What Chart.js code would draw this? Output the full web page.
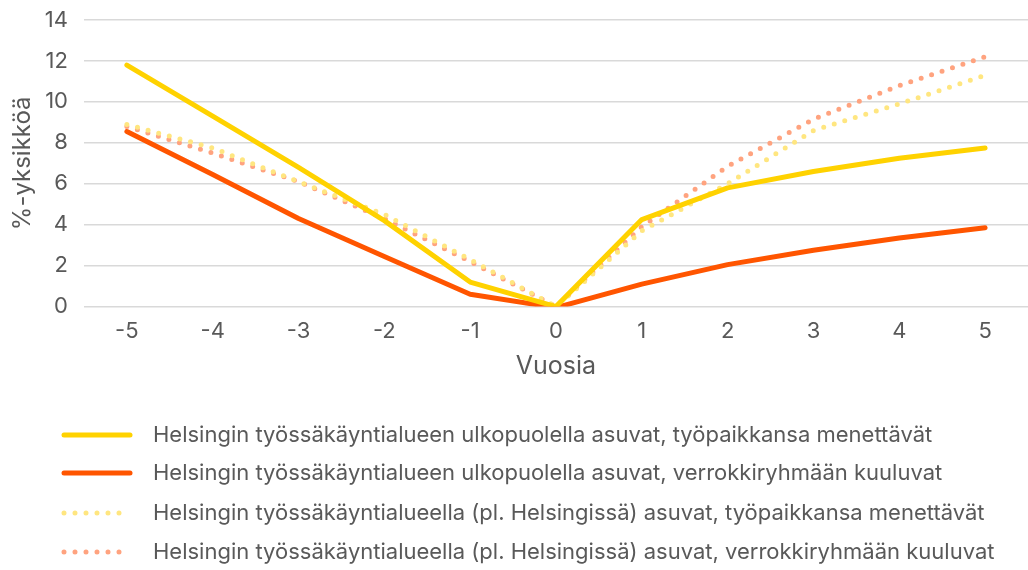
<!DOCTYPE html>
<html>
<head>
<meta charset="utf-8">
<script src="https://cdn.jsdelivr.net/npm/chart.js@4"></script>
<style>
  html, body { margin: 0; padding: 0; background: #fff; }
  #wrap { width: 1028px; height: 570px; }
</style>
</head>
<body>
<div id="wrap"><canvas id="chart"></canvas></div>
<script>
// vuodet suhteessa työpaikan menetykseen
const years = ['-5', '-4', '-3', '-2', '-1', '0', '1', '2', '3', '4', '5'];

const seriesNames = [
    'Helsingin työssäkäyntialueen ulkopuolella asuvat, työpaikkansa menettävät',
    'Helsingin työssäkäyntialueen ulkopuolella asuvat, verrokkiryhmään kuuluvat',
    'Helsingin työssäkäyntialueella (pl. Helsingissä) asuvat, työpaikkansa menettävät',
    'Helsingin työssäkäyntialueella (pl. Helsingissä) asuvat, verrokkiryhmään kuuluvat'
];

const outsideLosers = [11.8, 9.3, 6.8, 4.2, 1.2, 0, 4.25, 5.8, 6.6, 7.25, 7.75];
const outsideControl = [8.55, 6.45, 4.3, 2.45, 0.6, -0.05, 1.1, 2.05, 2.75, 3.35, 3.85];
const insideLosers = [8.9, 7.75, 6.1, 4.5, 2.3, 0, 3.7, 6.0, 8.6, 9.9, 11.3];
const insideControl = [8.8, 7.5, 6.1, 4.3, 2.2, 0, 3.9, 6.85, 9.15, 10.8, 12.2];

const textColor = '#595959';
const fontFamily = 'Inter, "Noto Sans", sans-serif';

// oma selite kaavion alle (pystysuora lista)
const bottomLegend = {
    id: 'bottomLegend',
    afterDraw(chart) {
        const ctx = chart.ctx;
        const rows = [435, 473, 513, 552];
        ctx.save();
        chart.data.datasets.forEach((ds, i) => {
            const y = rows[i];
            ctx.beginPath();
            ctx.strokeStyle = ds.borderColor;
            ctx.lineWidth = ds.borderWidth;
            ctx.lineCap = 'round';
            ctx.setLineDash(ds.borderDash || []);
            ctx.moveTo(64, y);
            ctx.lineTo(130, y);
            ctx.stroke();
            ctx.setLineDash([]);
            ctx.fillStyle = textColor;
            ctx.font = '22px ' + fontFamily;
            ctx.textBaseline = 'middle';
            ctx.fillText(ds.label, 153, y);
        });
        ctx.restore();
    }
};

new Chart(document.getElementById('chart'), {
    type: 'line',
    data: {
        labels: years,
        datasets: [
            { label: seriesNames[0], data: outsideLosers, borderColor: '#FFD200', borderWidth: 5 },
            { label: seriesNames[1], data: outsideControl, borderColor: '#FF5500', borderWidth: 5 },
            { label: seriesNames[2], data: insideLosers, borderColor: '#FFE680', borderWidth: 5, borderDash: [0, 11] },
            { label: seriesNames[3], data: insideControl, borderColor: '#FFA37F', borderWidth: 5, borderDash: [0, 11] }
        ]
    },
    options: {
        responsive: true,
        maintainAspectRatio: false,
        animation: false,
        elements: {
            point: { radius: 0 },
            line: { tension: 0, borderCapStyle: 'round', borderJoinStyle: 'round' }
        },
        layout: { padding: { top: 0, right: -3, bottom: 189, left: 8 } },
        plugins: {
            legend: { display: false },
            tooltip: { enabled: false }
        },
        scales: {
            x: {
                offset: true,
                grid: { display: false, drawTicks: false },
                border: { display: false },
                ticks: { color: textColor, font: { family: fontFamily, size: 22 }, padding: 12 },
                title: {
                    display: true,
                    text: 'Vuosia',
                    color: textColor,
                    font: { family: fontFamily, size: 25 },
                    padding: { top: -6, bottom: 0 }
                }
            },
            y: {
                min: 0,
                max: 14,
                ticks: { stepSize: 2, color: textColor, font: { family: fontFamily, size: 22 }, padding: 16 },
                grid: { color: '#d9d9d9', lineWidth: 1.5, drawTicks: false },
                border: { display: false },
                title: {
                    display: true,
                    text: '%-yksikköä',
                    color: textColor,
                    font: { family: fontFamily, size: 24 },
                    padding: { top: 0, bottom: -8 }
                },
                // ylin ruudukkoviiva lähemmäs yläreunaa
                afterFit: (scale) => { scale.paddingTop = 20; }
            }
        }
    },
    plugins: [bottomLegend]
});
</script>
</body>
</html>
